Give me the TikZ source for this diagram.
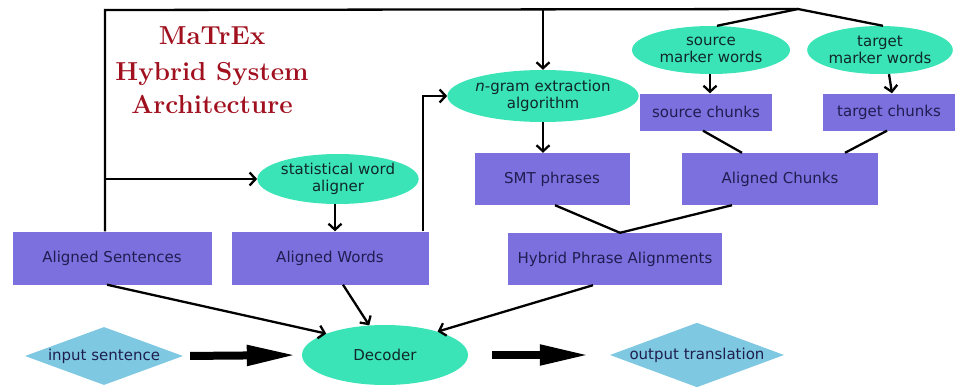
\documentclass[tikz,border=0pt]{standalone}
\usepackage{fontspec}
\setsansfont{DejaVu Sans}
\usetikzlibrary{shapes.geometric,arrows.meta}
\definecolor{boxc}{RGB}{124,112,222}
\definecolor{ellc}{RGB}{58,228,182}
\definecolor{diac}{RGB}{126,200,226}
\definecolor{titlec}{RGB}{160,16,30}
\definecolor{boxtxt}{RGB}{30,30,80}
\definecolor{elltxt}{RGB}{16,40,40}
\tikzset{
  pbox/.style={rectangle,fill=boxc,inner sep=0pt,font=\sffamily\fontsize{15}{17}\selectfont,text=boxtxt},
  pell/.style={ellipse,fill=ellc,inner sep=0pt,align=center,font=\sffamily\fontsize{15}{17}\selectfont,text=elltxt},
  pdia/.style={diamond,fill=diac,inner sep=0pt,aspect=2.7,font=\sffamily\fontsize{15}{17}\selectfont,text=boxtxt},
  ttl/.style={anchor=base,font=\bfseries\fontsize{26}{30}\selectfont,text=titlec,inner sep=0pt},
  link/.style={line width=2.3pt,black},
  arr/.style={link,-{Straight Barb[length=6pt,width=13pt]}},
  bigarr/.style={line width=8pt,-{Triangle[length=50pt,width=19pt]}}
}
\begin{document}
\begin{tikzpicture}[x=1pt,y=-1pt]
\useasboundingbox (0,0) rectangle (959,388);
% title
\node[ttl] (t1) at (212,45) {MaTrEx};
\node[ttl] (t2) at (212,80) {Hybrid System};
\node[ttl] (t3) at (212,113) {Architecture};
% boxes
\node[pbox,minimum width=199pt,minimum height=53pt] (as) at (112,258) {Aligned Sentences};
\node[pbox,minimum width=197pt,minimum height=53pt] (aw) at (330,258) {Aligned Words};
\node[pbox,minimum width=155pt,minimum height=52pt] (smt) at (552,179) {SMT phrases};
\node[pbox,minimum width=196pt,minimum height=52pt] (ac) at (780,179) {Aligned Chunks};
\node[pbox,minimum width=132pt,minimum height=37pt] (sc) at (706,112) {source chunks};
\node[pbox,minimum width=132pt,minimum height=37pt] (tc) at (889,112) {target chunks};
\node[pbox,minimum width=214pt,minimum height=52pt] (hpa) at (615,259) {Hybrid Phrase Alignments};
% ellipses
\node[pell,minimum width=152pt,minimum height=50pt] (swa) at (338,179) {statistical word\\aligner};
\node[pell,minimum width=163pt,minimum height=52pt] (ng) at (543,96) {\textit{n}-gram extraction\\algorithm};
\node[pell,minimum width=158pt,minimum height=48pt] (smw) at (711,50) {source\\marker words};
\node[pell,minimum width=134pt,minimum height=48pt] (tmw) at (880,50) {target\\marker words};
\node[pell,minimum width=166pt,minimum height=60pt] (dec) at (385,355) {Decoder};
% diamonds
\node[pdia,minimum width=158pt,minimum height=58pt] (ins) at (104,356) {input sentence};
\node[pdia,minimum width=158pt,minimum height=60pt] (outt) at (697,355) {output translation};
% connectors
\coordinate (tl) at (105,10);
\coordinate (jn) at (798,9);
\draw[link] (as.north -| tl) -- (tl) -- (jn);
\draw[link] (jn) -- ([xshift=6pt]smw.north);
\draw[link] (jn) -- ([xshift=3pt]tmw.north);
\draw[arr] (ng.north |- tl) -- (ng.north);
\draw[arr] (tl |- swa.west) -- (swa.west);
\draw[arr] ([xshift=-3pt]swa.south) -- ([xshift=5pt]aw.north);
\draw[arr] ([xshift=-6pt]aw.north east) |- (ng.west);
\draw[arr] (ng.south) -- (ng.south |- smt.north);
\draw[arr] ([xshift=-1pt]smw.south) -- ([xshift=4pt]sc.north);
\draw[arr] (tc.north |- tmw.south) -- ([xshift=3pt]tc.north);
\draw[link] ([xshift=-3pt]sc.south) -- ([xshift=-38pt]ac.north);
\draw[link] ([xshift=-2pt]tc.south) -- ([xshift=65pt]ac.north);
\draw[link] ([xshift=3pt]smt.south) -- ([xshift=5pt]hpa.north);
\draw[link] ([xshift=-48pt]ac.south) -- ([xshift=5pt]hpa.north);
\draw[arr] ([xshift=-5pt]as.south) -- (dec.160);
\draw[arr] ([xshift=13pt]aw.south) -- (dec.118);
\draw[arr] ([xshift=-22pt]hpa.south) -- (dec.24);
\draw[bigarr,shorten <=7pt,shorten >=5pt] (ins.east) -- (dec.west);
\draw[bigarr,shorten <=24pt,shorten >=20pt] (dec.east) -- (outt.west);
\end{tikzpicture}
\end{document}
